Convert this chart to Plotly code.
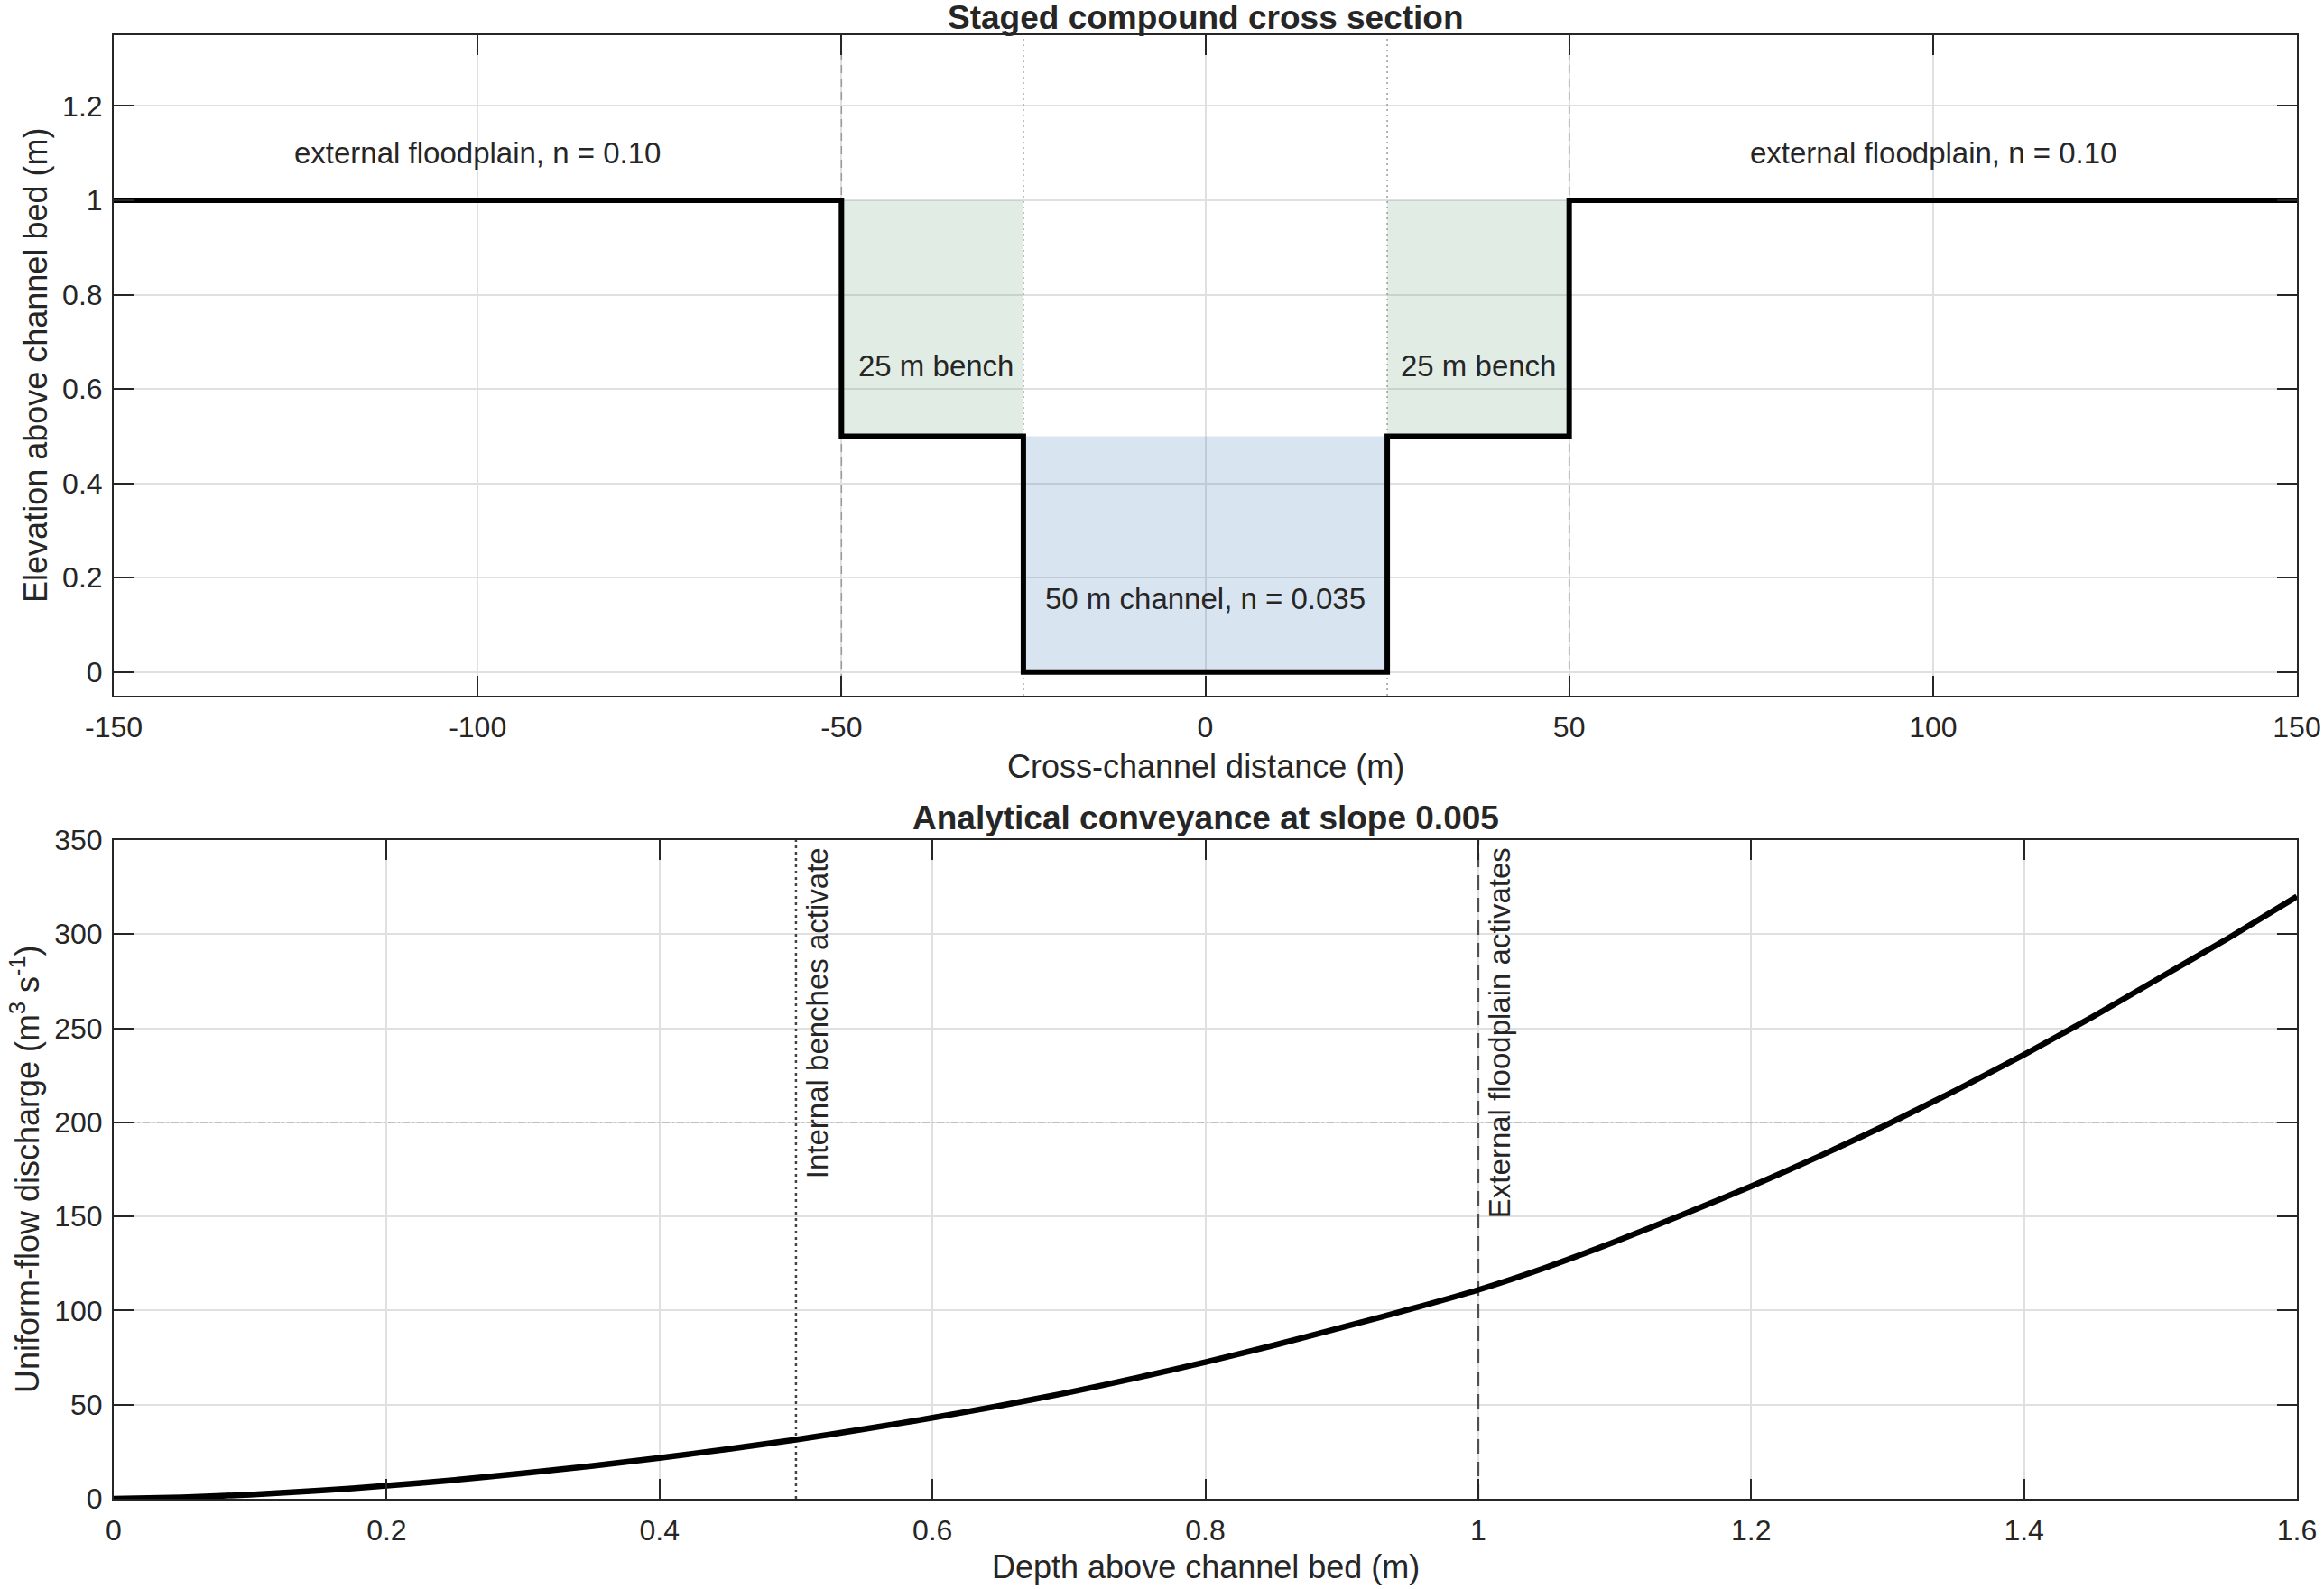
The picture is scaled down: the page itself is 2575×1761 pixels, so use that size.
import plotly.graph_objects as go

FONT = "Liberation Sans, Arial, Helvetica, sans-serif"
INK = "#262626"

FIG_W, FIG_H = 2575, 1761

# ---- cross section geometry (top panel) ----
section_x = [-150, -50, -50, -25, -25, 25, 25, 50, 50, 150]
section_z = [1, 1, 0.5, 0.5, 0, 0, 0.5, 0.5, 1, 1]

bench_left_x = [-50, -25, -25, -50]
bench_right_x = [25, 50, 50, 25]
bench_z = [0.5, 0.5, 1, 1]
channel_x = [-25, 25, 25, -25]
channel_z = [0, 0, 0.5, 0.5]

floodplain_edges = [-50, 50]
bench_edges = [-25, 25]

# ---- rating curve (bottom panel) ----
depth = [0, 0.05, 0.1, 0.15, 0.2, 0.25, 0.3, 0.35, 0.4, 0.45, 0.5,
         0.55, 0.6, 0.65, 0.7, 0.75, 0.8, 0.85, 0.9, 0.95, 1.0,
         1.05, 1.1, 1.15, 1.2, 1.25, 1.3, 1.35, 1.4, 1.45, 1.5, 1.55, 1.6]
discharge = [0, 0.7, 2.2, 4.3, 6.9, 10.0, 13.5, 17.4, 21.7, 26.4, 31.4,
             37.0, 43.0, 49.5, 56.5, 64.3, 72.6, 81.5, 91.0, 100.7, 111.0,
             123.0, 136.5, 151.0, 166.0, 182.0, 199.0, 217.0, 236.0, 256.0, 277.0, 298.0, 320.0]

bench_depth = 0.5
floodplain_depth = 1.0
reference_q = 200

x1_ticks = [-150, -100, -50, 0, 50, 100, 150]
x1_labels = ["-150", "-100", "-50", "0", "50", "100", "150"]
y1_ticks = [0, 0.2, 0.4, 0.6, 0.8, 1, 1.2]
y1_labels = ["0", "0.2", "0.4", "0.6", "0.8", "1", "1.2"]
x2_ticks = [0, 0.2, 0.4, 0.6, 0.8, 1, 1.2, 1.4, 1.6]
x2_labels = ["0", "0.2", "0.4", "0.6", "0.8", "1", "1.2", "1.4", "1.6"]
y2_ticks = [0, 50, 100, 150, 200, 250, 300, 350]


def xdom(left, right):
    return [left / FIG_W, right / FIG_W]


def ydom(top, bottom):
    return [1 - bottom / FIG_H, 1 - top / FIG_H]


fig = go.Figure()

# fills first so the outline sits on top
fig.add_trace(go.Scatter(x=bench_left_x, y=bench_z, fill="toself", mode="none",
                         fillcolor="rgba(95,160,110,0.19)", hoverinfo="skip"))
fig.add_trace(go.Scatter(x=bench_right_x, y=bench_z, fill="toself", mode="none",
                         fillcolor="rgba(95,160,110,0.19)", hoverinfo="skip"))
fig.add_trace(go.Scatter(x=channel_x, y=channel_z, fill="toself", mode="none",
                         fillcolor="rgba(60,125,180,0.2)", hoverinfo="skip"))

for xe in floodplain_edges:
    fig.add_trace(go.Scatter(x=[xe, xe], y=[-0.05, 1.35], mode="lines",
                             line=dict(color="#9a9a9a", width=1.5, dash="9px,6px"),
                             hoverinfo="skip"))
for xe in bench_edges:
    fig.add_trace(go.Scatter(x=[xe, xe], y=[-0.05, 1.35], mode="lines",
                             line=dict(color="#9a9a9a", width=1.5, dash="2px,4px"),
                             hoverinfo="skip"))

fig.add_trace(go.Scatter(x=section_x, y=section_z, mode="lines",
                         line=dict(color="black", width=6), name="section"))

# bottom panel
fig.add_trace(go.Scatter(x=[0, 1.6], y=[reference_q, reference_q], mode="lines",
                         line=dict(color="#a0a0a0", width=1.2, dash="8px,3px,2px,3px"),
                         xaxis="x2", yaxis="y2", hoverinfo="skip"))
fig.add_trace(go.Scatter(x=[bench_depth, bench_depth], y=[0, 350], mode="lines",
                         line=dict(color="#444444", width=2.5, dash="3px,4px"),
                         xaxis="x2", yaxis="y2", hoverinfo="skip"))
fig.add_trace(go.Scatter(x=[floodplain_depth, floodplain_depth], y=[0, 350], mode="lines",
                         line=dict(color="#505050", width=2.5, dash="16px,9px"),
                         xaxis="x2", yaxis="y2", hoverinfo="skip"))
fig.add_trace(go.Scatter(x=depth, y=discharge, mode="lines",
                         line=dict(color="black", width=6.5, shape="spline", smoothing=0.5),
                         xaxis="x2", yaxis="y2", name="Q"))

axis_common = dict(
    showline=True, linecolor=INK, linewidth=2, mirror="allticks",
    ticks="inside", ticklen=22, tickwidth=2, tickcolor=INK,
    showgrid=True, gridcolor="#e0e0e0", gridwidth=1.5, zeroline=False,
    automargin=False, ticklabeloverflow="allow",
    tickfont=dict(family=FONT, size=32, color=INK),
)

fig.update_layout(
    width=FIG_W, height=FIG_H, autosize=False,
    margin=dict(l=0, r=0, t=0, b=0, pad=0),
    paper_bgcolor="white", plot_bgcolor="white",
    showlegend=False,
    xaxis=dict(axis_common, domain=xdom(126, 2545), range=[-150, 150],
               tickvals=x1_ticks, ticktext=x1_labels, anchor="y", ticklabelstandoff=6),
    yaxis=dict(axis_common, domain=ydom(39, 771), range=[-0.05, 1.35],
               tickvals=y1_ticks, ticktext=y1_labels, anchor="x", ticklabelstandoff=4),
    xaxis2=dict(axis_common, domain=xdom(126, 2545), range=[0, 1.6],
                tickvals=x2_ticks, ticktext=x2_labels, anchor="y2", ticklabelstandoff=6),
    yaxis2=dict(axis_common, domain=ydom(931, 1661), range=[0, 350],
                tickvals=y2_ticks, anchor="x2", ticklabelstandoff=4),
)

txt = dict(family=FONT, size=33, color=INK)
lab = dict(family=FONT, size=36, color=INK)
ttl = dict(family=FONT, size=37, color=INK)
mid = dict(xanchor="center", yanchor="middle", showarrow=False)

# region labels
fig.add_annotation(x=-100, y=1.10, text="external floodplain, n = 0.10", font=txt, **mid)
fig.add_annotation(x=100, y=1.10, text="external floodplain, n = 0.10", font=txt, **mid)
fig.add_annotation(x=-37, y=0.65, text="25 m bench", font=txt, **mid)
fig.add_annotation(x=37.5, y=0.65, text="25 m bench", font=txt, **mid)
fig.add_annotation(x=0, y=0.155, text="50 m channel, n = 0.035", font=txt, **mid)

# threshold labels, rotated
fig.add_annotation(x=bench_depth, y=347, xref="x2", yref="y2", text="Internal benches activate",
                   textangle=-90, xanchor="left", yanchor="top", xshift=3,
                   showarrow=False, font=txt)
fig.add_annotation(x=floodplain_depth, y=347, xref="x2", yref="y2", text="External floodplain activates",
                   textangle=-90, xanchor="left", yanchor="top", xshift=3,
                   showarrow=False, font=txt)

# titles and axis labels, placed relative to each axes box
fig.add_annotation(x=0.5, y=1.0273, xref="x domain", yref="y domain",
                   text="<b>Staged compound cross section</b>", font=ttl, **mid)
fig.add_annotation(x=0.5, y=-0.1066, xref="x domain", yref="y domain",
                   text="Cross-channel distance (m)", font=lab, **mid)
fig.add_annotation(x=-0.036, y=0.5, xref="x domain", yref="y domain",
                   text="Elevation above channel bed (m)", textangle=-90, font=lab, **mid)
fig.add_annotation(x=0.5, y=1.0342, xref="x2 domain", yref="y2 domain",
                   text="<b>Analytical conveyance at slope 0.005</b>", font=ttl, **mid)
fig.add_annotation(x=0.5, y=-0.1041, xref="x2 domain", yref="y2 domain",
                   text="Depth above channel bed (m)", font=lab, **mid)
fig.add_annotation(x=-0.0405, y=0.5, xref="x2 domain", yref="y2 domain",
                   text="Uniform-flow discharge (m<sup>3</sup> s<sup>-1</sup>)", textangle=-90,
                   font=lab, **mid)

# drop the browser's default body margin so the figure fills the window exactly
fig.write_html("out.html", config={"displayModeBar": False},
               post_script="document.body.style.margin='0px';")
